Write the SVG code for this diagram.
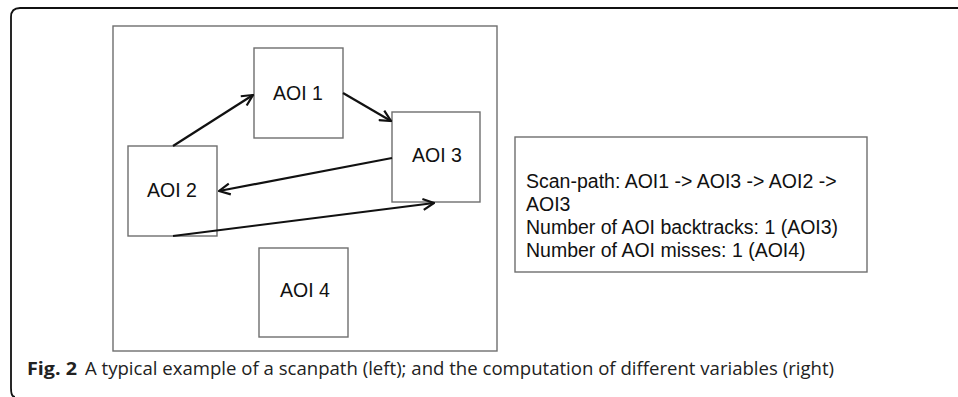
<svg xmlns="http://www.w3.org/2000/svg" width="958" height="397" viewBox="0 0 958 397">
<style>
.box{fill:#fff;stroke:#6e6e6e;stroke-width:1.4}
.lbl{font-family:"Liberation Sans",Arial,sans-serif;font-size:19.5px;fill:#111}
.info{font-family:"Liberation Sans",Arial,sans-serif;font-size:19.5px;fill:#111}
.cap{font-family:"Open Sans","Noto Sans",sans-serif;font-size:18.5px;fill:#222}
.conn line{stroke:#111;stroke-width:2.2;marker-end:url(#ah)}
</style>
<defs>
<marker id="ah" viewBox="0 0 12 12" refX="11" refY="6" markerWidth="6" markerHeight="6" markerUnits="strokeWidth" orient="auto">
<path d="M1,1 L11,6 L1,11" fill="none" stroke="#111" stroke-width="2"/>
</marker>
</defs>
<rect width="958" height="397" fill="#fff"/>
<path d="M958,8 H20 Q11,8 11,17 V388 Q11,397 15,397" fill="none" stroke="#111" stroke-width="1.8"/>
<g id="scene"><rect class="box" x="113" y="26" width="384" height="325"/></g>
<g id="aoi1"><rect class="box" x="254" y="48" width="89" height="90"/><text class="lbl" x="298" y="100" text-anchor="middle">AOI 1</text></g>
<g id="aoi3"><rect class="box" x="392" y="112" width="88" height="90"/><text class="lbl" x="437" y="162" text-anchor="middle">AOI 3</text></g>
<g id="aoi2"><rect class="box" x="128" y="146" width="89" height="90"/><text class="lbl" x="172" y="197" text-anchor="middle">AOI 2</text></g>
<g id="aoi4"><rect class="box" x="259" y="248" width="89" height="89"/><text class="lbl" x="305" y="297" text-anchor="middle">AOI 4</text></g>
<g class="conn" id="connectors">
<line x1="173" y1="146" x2="253" y2="95"/>
<line x1="343" y1="93" x2="391" y2="121"/>
<line x1="392" y1="158" x2="219" y2="191"/>
<line x1="173" y1="236" x2="434" y2="203"/>
</g>
<g id="info"><rect class="box" x="515" y="137" width="352" height="135"/>
<text class="info" x="526" y="188">Scan-path: AOI1 -&gt; AOI3 -&gt; AOI2 -&gt;</text>
<text class="info" x="526" y="211">AOI3</text>
<text class="info" x="526" y="234">Number of AOI backtracks: 1 (AOI3)</text>
<text class="info" x="526" y="257">Number of AOI misses: 1 (AOI4)</text>
</g>
<g id="caption">
<text class="cap" x="27" y="375" font-weight="bold" textLength="50" lengthAdjust="spacingAndGlyphs">Fig. 2</text>
<text class="cap" x="85" y="375" textLength="749" lengthAdjust="spacingAndGlyphs">A typical example of a scanpath (left); and the computation of different variables (right)</text>
</g>
</svg>
